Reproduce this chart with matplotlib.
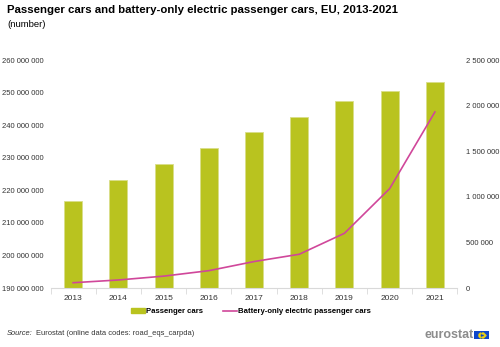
import matplotlib.pyplot as plt
import matplotlib.patches as mpatches
import matplotlib.ticker as mticker
import numpy as np

plt.rcParams['font.family'] = ['Liberation Sans', 'DejaVu Sans']

years = ["2013", "2014", "2015", "2016", "2017", "2018", "2019", "2020", "2021"]
passenger_cars = [216.8e6, 223.1e6, 228.2e6, 233.1e6, 237.9e6,
                  242.5e6, 247.4e6, 250.4e6, 253.2e6]
bev_cars = [58e3, 88e3, 130e3, 190e3, 290e3, 370e3, 600e3, 1090e3, 1930e3]

BAR_COLOR = "#B9C31F"
LINE_COLOR = "#D0479A"
TEXT_COLOR = "#333333"


def space_fmt(v, pos):
    return f"{int(round(v)):,}".replace(",", " ")


fig = plt.figure(figsize=(5, 3.47), dpi=100)
ax = fig.add_axes([0.101, 0.170, 0.814, 0.657])
ax2 = ax.twinx()

x = np.arange(len(years))
ax.bar(x, passenger_cars, width=0.4, color=BAR_COLOR,
       edgecolor="#D9DE8A", linewidth=0.6, zorder=2)
ax2.plot(x, bev_cars, color=LINE_COLOR, linewidth=1.2, zorder=3)

ax.set_xlim(-0.5, len(years) - 0.5)
ax.set_ylim(190e6, 260e6)
ax.set_yticks(np.arange(190e6, 260e6 + 1, 10e6))
ax.yaxis.set_major_formatter(mticker.FuncFormatter(space_fmt))
ax2.set_ylim(0, 2.5e6)
ax2.set_yticks(np.arange(0, 2.5e6 + 1, 0.5e6))
ax2.yaxis.set_major_formatter(mticker.FuncFormatter(space_fmt))

ax.set_xticks(x)
ax.set_xticklabels(years)
ax.set_xticks(np.arange(-0.5, len(years)), minor=True)
ax.tick_params(axis="x", which="major", length=0, pad=5,
               labelsize=6, labelcolor=TEXT_COLOR)
ax.tick_params(axis="x", which="minor", length=4, color="#D9D9D9")
ax.tick_params(axis="y", length=0, labelsize=5.5, labelcolor=TEXT_COLOR, pad=5)
ax2.tick_params(axis="y", length=0, labelsize=5.5, labelcolor=TEXT_COLOR, pad=6)

for a in (ax, ax2):
    for side in ("top", "left", "right"):
        a.spines[side].set_visible(False)
ax.spines["bottom"].set_color("#D9D9D9")
ax2.spines["bottom"].set_visible(False)

fig.text(0.014, 0.970, "Passenger cars and battery-only electric passenger cars, EU, 2013-2021",
         fontsize=8.2, fontweight="bold", color="#000000", va="center")
fig.text(0.014, 0.930, "(number)", fontsize=6.8, color="#000000", va="center")

handles = [mpatches.Patch(color=BAR_COLOR),
           plt.Line2D([], [], color=LINE_COLOR, linewidth=1.2)]
fig.legend(handles, ["Passenger cars", "Battery-only electric passenger cars"],
           loc="center", bbox_to_anchor=(0.502, 0.101), ncol=2, frameon=False,
           prop={"size": 5.6, "weight": "bold"}, handlelength=1.8, handleheight=0.5,
           columnspacing=2.6, handletextpad=0.1)

fig.text(0.014, 0.040, "Source:", fontsize=5.4, style="italic", color=TEXT_COLOR, va="center")
fig.text(0.071, 0.040, "Eurostat (online data codes: road_eqs_carpda)",
         fontsize=5.4, color=TEXT_COLOR, va="center")

# eurostat logo
fig.text(0.947, 0.036, "eurostat", fontsize=9, fontweight="bold",
         color="#8C8C8C", ha="right", va="center")
flag = fig.add_axes([0.948, 0.023, 0.030, 0.022])
flag.set_facecolor("#0E47CB")
flag.set_xticks([])
flag.set_yticks([])
for s in flag.spines.values():
    s.set_visible(False)
ang = np.linspace(0, 2 * np.pi, 12, endpoint=False)
flag.scatter(0.5 + 0.2 * np.cos(ang), 0.5 + 0.3 * np.sin(ang), s=0.3, color="#FFDD00")
flag.set_xlim(0, 1)
flag.set_ylim(0, 1)

fig.savefig("out.png", dpi=100)
